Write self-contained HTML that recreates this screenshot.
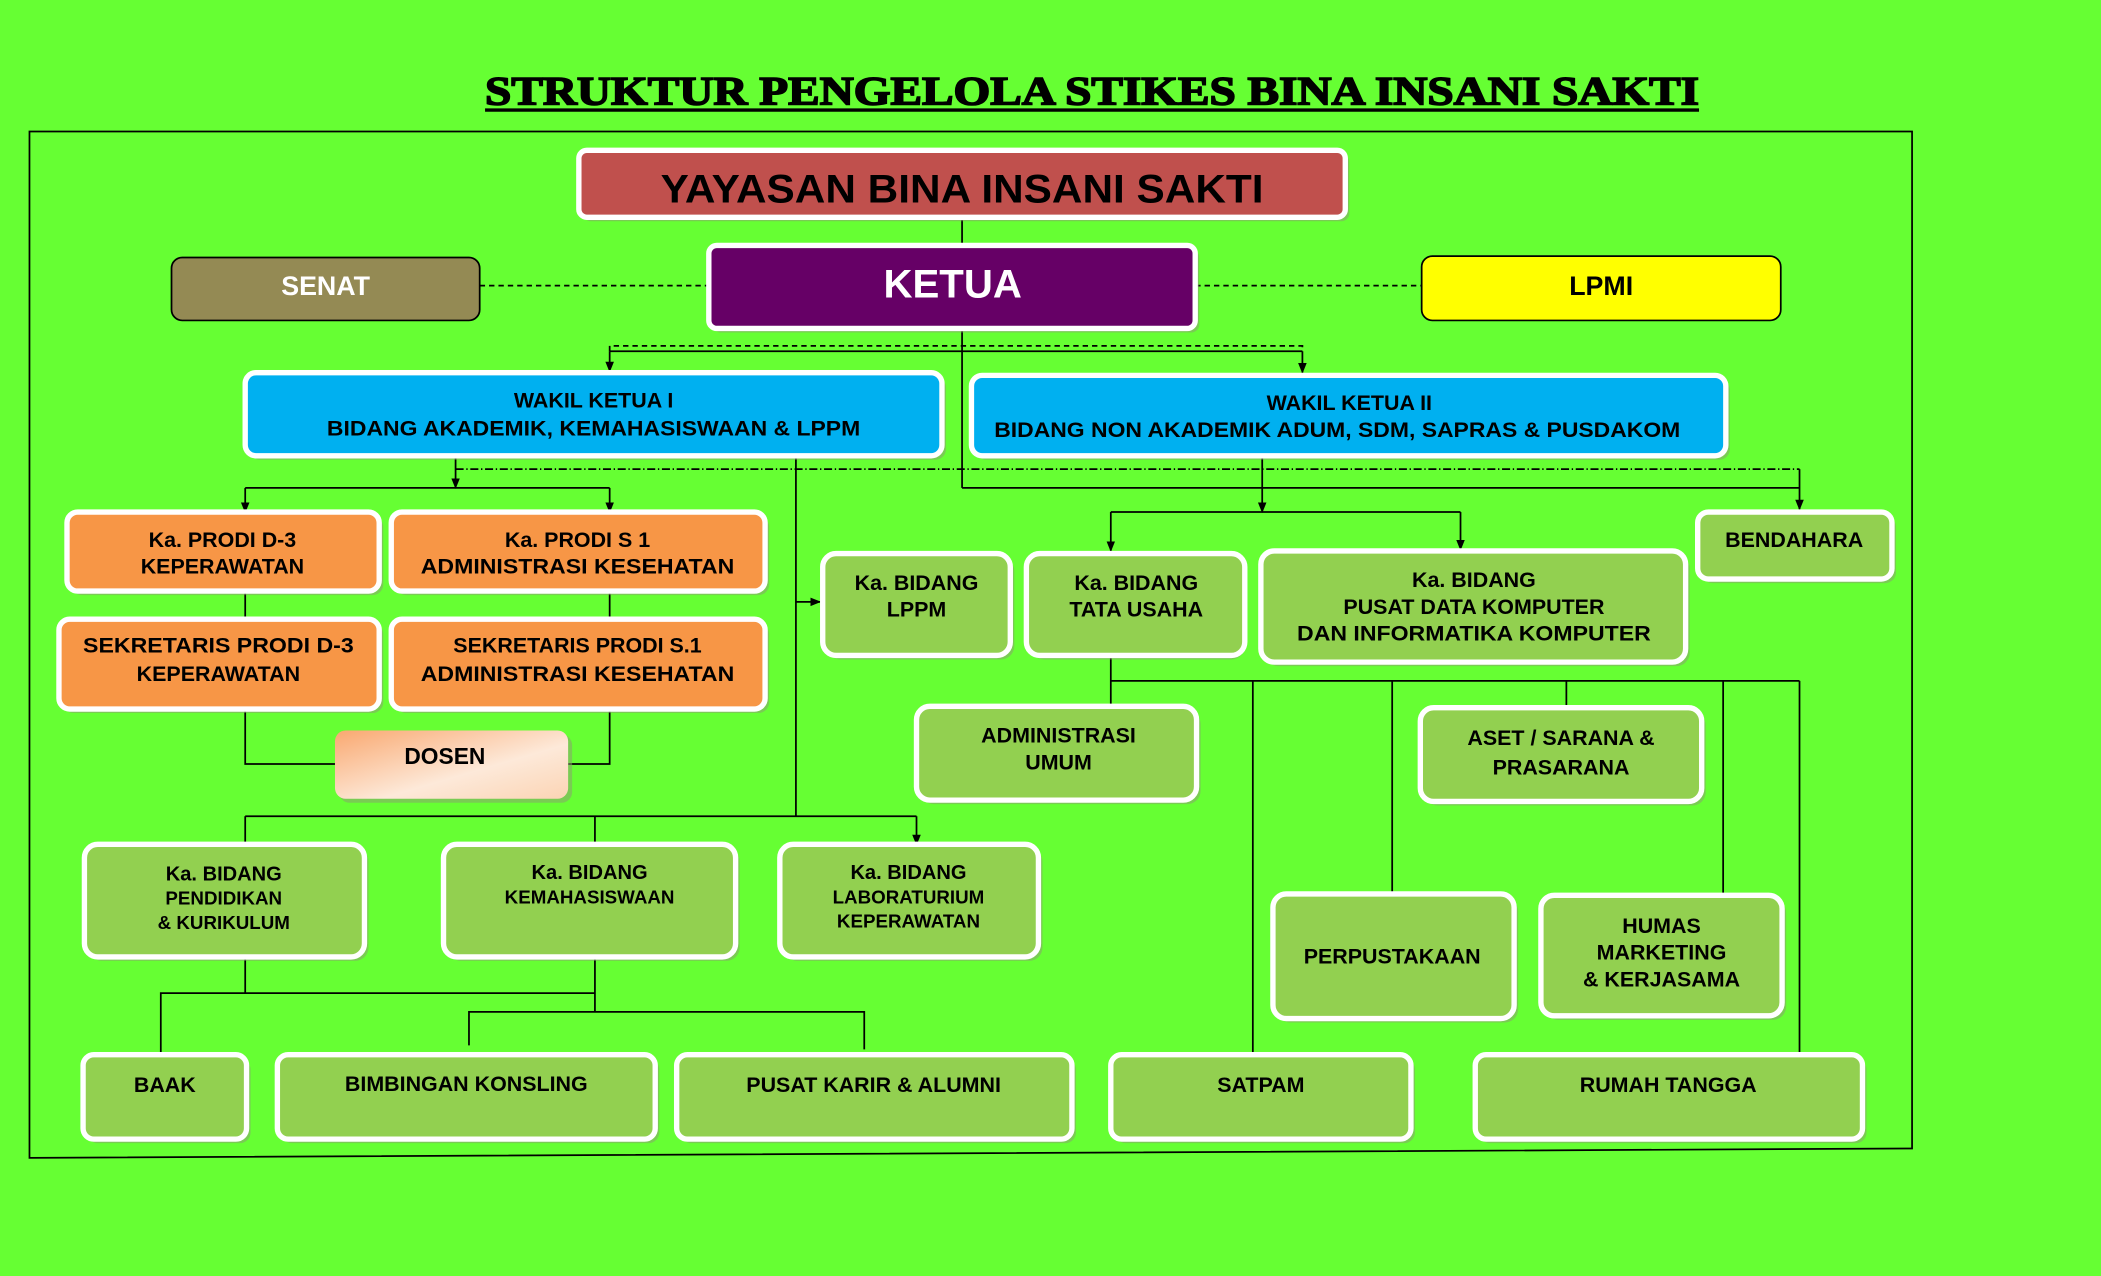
<!DOCTYPE html>
<html><head><meta charset="utf-8"><style>
html,body{margin:0;padding:0;background:#66ff33;}
svg{display:block}
text{font-family:"Liberation Sans Narrow","Liberation Sans",sans-serif;font-weight:bold;text-anchor:middle;fill:#000}
.b{stroke:#fff;stroke-width:4}
.sh{fill:#8aa070;opacity:.55}
.l{stroke:#000;stroke-width:1.3;fill:none}
</style></head><body>
<svg width="2101" height="1276" viewBox="0 0 1568 952" xmlns="http://www.w3.org/2000/svg">
<defs>
<marker id="ar" viewBox="0 0 10 10" refX="9" refY="5" markerWidth="8" markerHeight="8" orient="auto" markerUnits="userSpaceOnUse"><path d="M0,1 L10,5 L0,9 z" fill="#000"/></marker>
<linearGradient id="g" x1="0" y1="0" x2="1" y2="1"><stop offset="0" stop-color="#f9a870"/><stop offset="0.6" stop-color="#fde9d9"/><stop offset="1" stop-color="#fbd4b4"/></linearGradient>
</defs>
<rect width="1568" height="952" fill="#66ff33"/>
<text x="815" y="78" style="font-family:'Liberation Serif',serif;font-weight:900;font-size:30px;stroke:#000;stroke-width:1.2" textLength="906" lengthAdjust="spacingAndGlyphs">STRUKTUR PENGELOLA  STIKES BINA INSANI SAKTI</text>
<line x1="362" y1="82" x2="1268" y2="82" stroke="#000" stroke-width="2.5"/>
<polygon points="22,98 1427,98 1427,857 22,864" fill="none" stroke="#000" stroke-width="1.3"/>

<line class="l" x1="718" y1="162" x2="718" y2="183"/>
<line class="l" x1="358" y1="213" x2="529" y2="213" stroke-dasharray="4,3"/>
<line class="l" x1="892" y1="213" x2="1061" y2="213" stroke-dasharray="4,3"/>
<line class="l" x1="718" y1="245" x2="718" y2="364"/>
<polyline class="l" points="455,262 455,258 972,258 972,262" stroke-dasharray="4,3"/>
<line class="l" x1="455" y1="262" x2="972" y2="262"/>
<line class="l" x1="455" y1="262" x2="455" y2="277" marker-end="url(#ar)"/>
<line class="l" x1="972" y1="262" x2="972" y2="278" marker-end="url(#ar)"/>
<line class="l" x1="340" y1="350" x2="1343" y2="350" stroke-dasharray="6,2,1,2"/>
<line class="l" x1="718" y1="364" x2="1343" y2="364"/>
<line class="l" x1="1343" y1="350" x2="1343" y2="380" marker-end="url(#ar)"/>
<line class="l" x1="340" y1="340" x2="340" y2="364" marker-end="url(#ar)"/>
<line class="l" x1="183" y1="364" x2="455" y2="364"/>
<line class="l" x1="183" y1="364" x2="183" y2="382" marker-end="url(#ar)"/>
<line class="l" x1="455" y1="364" x2="455" y2="382" marker-end="url(#ar)"/>
<line class="l" x1="594" y1="340" x2="594" y2="609"/>
<line class="l" x1="594" y1="449" x2="612" y2="449" marker-end="url(#ar)"/>
<line class="l" x1="183" y1="441" x2="183" y2="462"/>
<line class="l" x1="455" y1="441" x2="455" y2="462"/>
<polyline class="l" points="183,529 183,570 250,570"/>
<polyline class="l" points="455,529 455,570 424,570"/>
<line class="l" x1="942" y1="340" x2="942" y2="382" marker-end="url(#ar)"/>
<line class="l" x1="829" y1="382" x2="1090" y2="382"/>
<line class="l" x1="829" y1="382" x2="829" y2="411" marker-end="url(#ar)"/>
<line class="l" x1="1090" y1="382" x2="1090" y2="410" marker-end="url(#ar)"/>
<line class="l" x1="829" y1="489" x2="829" y2="527"/>
<line class="l" x1="829" y1="508" x2="1343" y2="508"/>
<line class="l" x1="935" y1="508" x2="935" y2="787"/>
<line class="l" x1="1039" y1="508" x2="1039" y2="667"/>
<line class="l" x1="1169" y1="508" x2="1169" y2="528"/>
<line class="l" x1="1286" y1="508" x2="1286" y2="668"/>
<line class="l" x1="1343" y1="508" x2="1343" y2="787"/>
<line class="l" x1="183" y1="609" x2="684" y2="609"/>
<line class="l" x1="183" y1="609" x2="183" y2="630"/>
<line class="l" x1="444" y1="609" x2="444" y2="630"/>
<line class="l" x1="684" y1="609" x2="684" y2="630" marker-end="url(#ar)"/>
<line class="l" x1="183" y1="714" x2="183" y2="741"/>
<polyline class="l" points="120,787 120,741 444,741"/>
<line class="l" x1="444" y1="714" x2="444" y2="755"/>
<polyline class="l" points="350,780 350,755 645,755 645,783"/>

<g>
<rect class="sh" x="435" y="115" width="572" height="50" rx="6"/>
<rect class="b" x="432" y="112" width="572" height="50" rx="6" fill="#c0504d"/>
<text x="718" y="151" style="font-family:'Liberation Sans',sans-serif;font-size:30px" textLength="450" lengthAdjust="spacingAndGlyphs">YAYASAN BINA INSANI SAKTI</text>

<rect class="sh" x="532" y="186" width="363" height="62" rx="6"/>
<rect class="b" x="529" y="183" width="363" height="62" rx="6" fill="#660066"/>
<text x="711" y="222" style="font-family:'Liberation Sans',sans-serif;font-size:30px;fill:#fff">KETUA</text>

<rect x="128" y="192" width="230" height="47" rx="8" fill="#948a54" stroke="#000" stroke-width="1.3"/>
<text x="243" y="220" style="font-size:20px;fill:#fff">SENAT</text>
<rect x="1061" y="191" width="268" height="48" rx="8" fill="#ffff00" stroke="#000" stroke-width="1.3"/>
<text x="1195" y="220" style="font-size:20px">LPMI</text>

<rect class="sh" x="186" y="281" width="520" height="62" rx="8"/>
<rect class="b" x="183" y="278" width="520" height="62" rx="8" fill="#00b0f0"/>
<text x="443" y="304" style="font-size:16px">WAKIL KETUA I</text>
<text x="443" y="325" style="font-size:16px" textLength="398" lengthAdjust="spacingAndGlyphs">BIDANG AKADEMIK, KEMAHASISWAAN &amp; LPPM</text>
<rect class="sh" x="728" y="283" width="563" height="60" rx="8"/>
<rect class="b" x="725" y="280" width="563" height="60" rx="8" fill="#00b0f0"/>
<text x="1007" y="306" style="font-size:16px">WAKIL KETUA II</text>
<text x="998" y="326" style="font-size:16px" textLength="512" lengthAdjust="spacingAndGlyphs">BIDANG NON AKADEMIK ADUM, SDM, SAPRAS &amp; PUSDAKOM</text>

<g fill="#f79646">
<rect class="sh" x="53" y="385" width="233" height="59" rx="8"/>
<rect class="b" x="50" y="382" width="233" height="59" rx="8"/>
<rect class="sh" x="295" y="385" width="279" height="59" rx="8"/>
<rect class="b" x="292" y="382" width="279" height="59" rx="8"/>
<rect class="sh" x="47" y="465" width="239" height="67" rx="8"/>
<rect class="b" x="44" y="462" width="239" height="67" rx="8"/>
<rect class="sh" x="295" y="465" width="279" height="67" rx="8"/>
<rect class="b" x="292" y="462" width="279" height="67" rx="8"/>
</g>
<text x="166" y="408" style="font-size:16px">Ka. PRODI  D-3</text>
<text x="166" y="428" style="font-size:16px">KEPERAWATAN</text>
<text x="431" y="408" style="font-size:16px">Ka. PRODI  S 1</text>
<text x="431" y="428" style="font-size:16px" textLength="234" lengthAdjust="spacingAndGlyphs">ADMINISTRASI KESEHATAN</text>
<text x="163" y="487" style="font-size:16px" textLength="202" lengthAdjust="spacingAndGlyphs">SEKRETARIS PRODI D-3</text>
<text x="163" y="508" style="font-size:16px">KEPERAWATAN</text>
<text x="431" y="487" style="font-size:16px">SEKRETARIS PRODI S.1</text>
<text x="431" y="508" style="font-size:16px" textLength="234" lengthAdjust="spacingAndGlyphs">ADMINISTRASI KESEHATAN</text>

<rect class="sh" x="253" y="548" width="174" height="51" rx="8"/>
<rect x="250" y="545" width="174" height="51" rx="8" fill="url(#g)"/>
<text x="332" y="570" style="font-size:17px">DOSEN</text>

<g fill="#92d050">
<rect class="sh" x="617" y="416" width="140" height="76" rx="10"/>
<rect class="b" x="614" y="413" width="140" height="76" rx="10"/>
<rect class="sh" x="769" y="416" width="160" height="76" rx="10"/>
<rect class="b" x="766" y="413" width="163" height="76" rx="10"/>
<rect class="sh" x="944" y="414" width="317" height="83" rx="10"/>
<rect class="b" x="941" y="411" width="317" height="83" rx="10"/>
<rect class="sh" x="1270" y="385" width="145" height="50" rx="8"/>
<rect class="b" x="1267" y="382" width="145" height="50" rx="8"/>
<rect class="sh" x="687" y="530" width="209" height="70" rx="10"/>
<rect class="b" x="684" y="527" width="209" height="70" rx="10"/>
<rect class="sh" x="1063" y="531" width="210" height="70" rx="10"/>
<rect class="b" x="1060" y="528" width="210" height="70" rx="10"/>
<rect class="sh" x="953" y="670" width="180" height="93" rx="10"/>
<rect class="b" x="950" y="667" width="180" height="93" rx="10"/>
<rect class="sh" x="1153" y="671" width="180" height="90" rx="10"/>
<rect class="b" x="1150" y="668" width="180" height="90" rx="10"/>
<rect class="sh" x="832" y="790" width="224" height="63" rx="8"/>
<rect class="b" x="829" y="787" width="224" height="63" rx="8"/>
<rect class="sh" x="1104" y="790" width="289" height="63" rx="8"/>
<rect class="b" x="1101" y="787" width="289" height="63" rx="8"/>
<rect class="sh" x="66" y="633" width="209" height="84" rx="10"/>
<rect class="b" x="63" y="630" width="209" height="84" rx="10"/>
<rect class="sh" x="334" y="633" width="218" height="84" rx="10"/>
<rect class="b" x="331" y="630" width="218" height="84" rx="10"/>
<rect class="sh" x="585" y="633" width="193" height="84" rx="10"/>
<rect class="b" x="582" y="630" width="193" height="84" rx="10"/>
<rect class="sh" x="65" y="790" width="122" height="63" rx="8"/>
<rect class="b" x="62" y="787" width="122" height="63" rx="8"/>
<rect class="sh" x="210" y="790" width="282" height="63" rx="8"/>
<rect class="b" x="207" y="787" width="282" height="63" rx="8"/>
<rect class="sh" x="508" y="790" width="295" height="63" rx="8"/>
<rect class="b" x="505" y="787" width="295" height="63" rx="8"/>
</g>
<text x="684" y="440" style="font-size:16px">Ka. BIDANG</text>
<text x="684" y="460" style="font-size:16px">LPPM</text>
<text x="848" y="440" style="font-size:16px">Ka. BIDANG</text>
<text x="848" y="460" style="font-size:16px">TATA USAHA</text>
<text x="1100" y="438" style="font-size:16px">Ka. BIDANG</text>
<text x="1100" y="458" style="font-size:16px">PUSAT DATA KOMPUTER</text>
<text x="1100" y="478" style="font-size:16px" textLength="264" lengthAdjust="spacingAndGlyphs">DAN INFORMATIKA KOMPUTER</text>
<text x="1339" y="408" style="font-size:16px">BENDAHARA</text>
<text x="790" y="554" style="font-size:16px">ADMINISTRASI</text>
<text x="790" y="574" style="font-size:16px">UMUM</text>
<text x="1165" y="556" style="font-size:16px">ASET / SARANA &amp;</text>
<text x="1165" y="578" style="font-size:16px">PRASARANA</text>
<text x="1039" y="719" style="font-size:16px">PERPUSTAKAAN</text>
<text x="1240" y="696" style="font-size:16px">HUMAS</text>
<text x="1240" y="716" style="font-size:16px">MARKETING</text>
<text x="1240" y="736" style="font-size:16px">&amp; KERJASAMA</text>
<text x="941" y="815" style="font-size:16px">SATPAM</text>
<text x="1245" y="815" style="font-size:16px">RUMAH TANGGA</text>
<text x="167" y="657" style="font-size:15px">Ka. BIDANG</text>
<text x="167" y="675" style="font-size:14px">PENDIDIKAN</text>
<text x="167" y="693" style="font-size:14px">&amp; KURIKULUM</text>
<text x="440" y="656" style="font-size:15px">Ka. BIDANG</text>
<text x="440" y="674" style="font-size:14px">KEMAHASISWAAN</text>
<text x="678" y="656" style="font-size:15px">Ka. BIDANG</text>
<text x="678" y="674" style="font-size:14px">LABORATURIUM</text>
<text x="678" y="692" style="font-size:14px">KEPERAWATAN</text>
<text x="123" y="815" style="font-size:16px">BAAK</text>
<text x="348" y="814" style="font-size:16px">BIMBINGAN KONSLING</text>
<text x="652" y="815" style="font-size:16px">PUSAT KARIR &amp; ALUMNI</text>
</g>
</svg>
</body></html>
